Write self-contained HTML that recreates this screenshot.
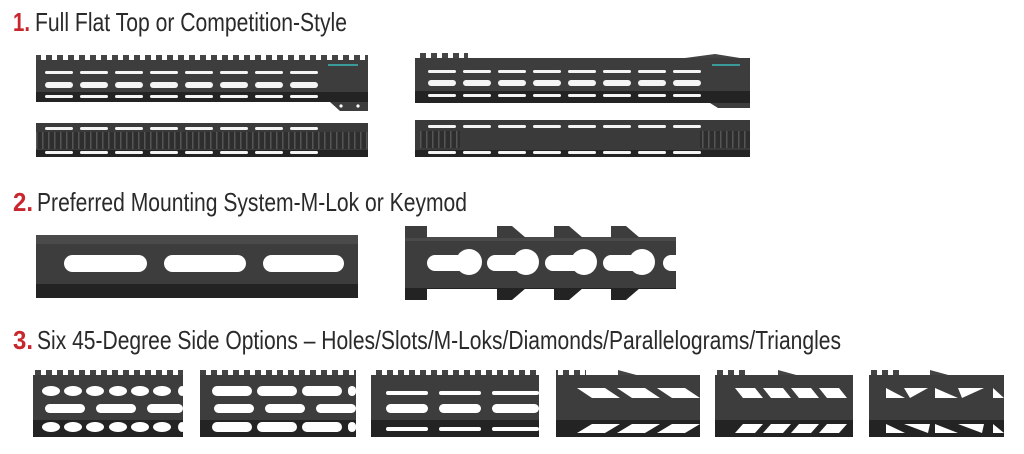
<!DOCTYPE html>
<html><head><meta charset="utf-8"><style>
html,body{margin:0;padding:0;background:#fff;width:1024px;height:454px;overflow:hidden}
svg{display:block}
.t{font-family:"Liberation Sans",sans-serif;font-size:26px;fill:#2a2a2a}
.n{font-family:"Liberation Sans",sans-serif;font-size:26px;font-weight:bold;fill:#c8262c}
</style></head><body>
<svg width="1024" height="454" viewBox="0 0 1024 454">
<defs>
<pattern id="teeth" width="11" height="6" patternUnits="userSpaceOnUse"><rect x="2" y="0" width="6" height="6" fill="#444"/></pattern>
<pattern id="rib" width="6" height="30" patternUnits="userSpaceOnUse"><rect width="6" height="30" fill="#2e2e2e"/><rect x="0" width="1.5" height="30" fill="#555"/></pattern>
</defs>
<text class="n" x="13" y="31" textLength="17" lengthAdjust="spacingAndGlyphs">1.</text><text class="t" x="35" y="31" textLength="312" lengthAdjust="spacingAndGlyphs">Full Flat Top or Competition-Style</text>
<text class="n" x="13" y="211" textLength="20" lengthAdjust="spacingAndGlyphs">2.</text><text class="t" x="37" y="211" textLength="430" lengthAdjust="spacingAndGlyphs">Preferred Mounting System-M-Lok or Keymod</text>
<text class="n" x="13" y="349" textLength="20" lengthAdjust="spacingAndGlyphs">3.</text><text class="t" x="37" y="349" textLength="804" lengthAdjust="spacingAndGlyphs">Six 45-Degree Side Options – Holes/Slots/M-Loks/Diamonds/Parallelograms/Triangles</text>

<g>
<rect x="36" y="55" width="332" height="6" fill="url(#teeth)"/>
<rect x="36" y="60" width="332" height="42" fill="#3d3d3d"/>
<rect x="36" y="92" width="332" height="10" fill="#232323"/>
<path d="M330 102 L368 102 L368 111 L340 111 Z" fill="#3d3d3d"/>
<circle cx="341" cy="106" r="1.6" fill="#fff"/><circle cx="358" cy="106" r="1.6" fill="#fff"/>
<g fill="#f4f4f4">
<rect x="45" y="71" width="28" height="3" rx="1.5"/><rect x="80" y="71" width="28" height="3" rx="1.5"/><rect x="115" y="71" width="28" height="3" rx="1.5"/><rect x="150" y="71" width="28" height="3" rx="1.5"/><rect x="185" y="71" width="28" height="3" rx="1.5"/><rect x="220" y="71" width="28" height="3" rx="1.5"/><rect x="255" y="71" width="28" height="3" rx="1.5"/><rect x="290" y="71" width="28" height="3" rx="1.5"/>
<rect x="45" y="82" width="28" height="6" rx="3"/><rect x="80" y="82" width="28" height="6" rx="3"/><rect x="115" y="82" width="28" height="6" rx="3"/><rect x="150" y="82" width="28" height="6" rx="3"/><rect x="185" y="82" width="28" height="6" rx="3"/><rect x="220" y="82" width="28" height="6" rx="3"/><rect x="255" y="82" width="28" height="6" rx="3"/><rect x="290" y="82" width="28" height="6" rx="3"/>
<rect x="45" y="95" width="28" height="3" rx="1.5"/><rect x="80" y="95" width="28" height="3" rx="1.5"/><rect x="115" y="95" width="28" height="3" rx="1.5"/><rect x="150" y="95" width="28" height="3" rx="1.5"/><rect x="185" y="95" width="28" height="3" rx="1.5"/><rect x="220" y="95" width="28" height="3" rx="1.5"/><rect x="255" y="95" width="28" height="3" rx="1.5"/><rect x="290" y="95" width="28" height="3" rx="1.5"/>
</g>
<rect x="328" y="64" width="30" height="2" fill="#3a9a9a"/>
</g>
<g>
<rect x="36" y="123" width="332" height="34" fill="#3a3a3a"/>
<rect x="36" y="132" width="332" height="17" fill="url(#rib)"/>
<rect x="36" y="150" width="332" height="7" fill="#232323"/>
<g fill="#f4f4f4">
<rect x="45" y="127" width="28" height="3" rx="1.5"/><rect x="80" y="127" width="28" height="3" rx="1.5"/><rect x="115" y="127" width="28" height="3" rx="1.5"/><rect x="150" y="127" width="28" height="3" rx="1.5"/><rect x="185" y="127" width="28" height="3" rx="1.5"/><rect x="220" y="127" width="28" height="3" rx="1.5"/><rect x="255" y="127" width="28" height="3" rx="1.5"/><rect x="290" y="127" width="28" height="3" rx="1.5"/>
<rect x="45" y="151" width="28" height="3" rx="1.5"/><rect x="80" y="151" width="28" height="3" rx="1.5"/><rect x="115" y="151" width="28" height="3" rx="1.5"/><rect x="150" y="151" width="28" height="3" rx="1.5"/><rect x="185" y="151" width="28" height="3" rx="1.5"/><rect x="220" y="151" width="28" height="3" rx="1.5"/><rect x="255" y="151" width="28" height="3" rx="1.5"/><rect x="290" y="151" width="28" height="3" rx="1.5"/>
</g>
</g>
<g>
<rect x="418" y="53" width="50" height="6" fill="url(#teeth)"/>
<path d="M685 58 L715 54 L740 58 Z" fill="#444"/>
<rect x="415" y="58" width="335" height="45" fill="#3d3d3d"/>
<rect x="415" y="91" width="335" height="12" fill="#232323"/>
<path d="M710 103 L750 103 L750 108 L718 108 Z" fill="#3d3d3d"/>
<g fill="#f4f4f4">
<rect x="428" y="70" width="28" height="3" rx="1.5"/><rect x="463" y="70" width="28" height="3" rx="1.5"/><rect x="498" y="70" width="28" height="3" rx="1.5"/><rect x="533" y="70" width="28" height="3" rx="1.5"/><rect x="568" y="70" width="28" height="3" rx="1.5"/><rect x="603" y="70" width="28" height="3" rx="1.5"/><rect x="638" y="70" width="28" height="3" rx="1.5"/><rect x="673" y="70" width="28" height="3" rx="1.5"/>
<rect x="428" y="80" width="28" height="6" rx="3"/><rect x="463" y="80" width="28" height="6" rx="3"/><rect x="498" y="80" width="28" height="6" rx="3"/><rect x="533" y="80" width="28" height="6" rx="3"/><rect x="568" y="80" width="28" height="6" rx="3"/><rect x="603" y="80" width="28" height="6" rx="3"/><rect x="638" y="80" width="28" height="6" rx="3"/><rect x="673" y="80" width="28" height="6" rx="3"/>
<rect x="428" y="94" width="28" height="3" rx="1.5"/><rect x="463" y="94" width="28" height="3" rx="1.5"/><rect x="498" y="94" width="28" height="3" rx="1.5"/><rect x="533" y="94" width="28" height="3" rx="1.5"/><rect x="568" y="94" width="28" height="3" rx="1.5"/><rect x="603" y="94" width="28" height="3" rx="1.5"/><rect x="638" y="94" width="28" height="3" rx="1.5"/><rect x="673" y="94" width="28" height="3" rx="1.5"/>
</g>
<rect x="712" y="64" width="28" height="2" fill="#3a9a9a"/>
</g>
<g>
<rect x="415" y="120" width="335" height="37" fill="#3a3a3a"/>
<rect x="420" y="131" width="40" height="17" fill="url(#rib)"/>
<rect x="700" y="131" width="50" height="17" fill="url(#rib)"/>
<rect x="415" y="150" width="335" height="7" fill="#232323"/>
<g fill="#f4f4f4">
<rect x="428" y="125" width="28" height="3" rx="1.5"/><rect x="463" y="125" width="28" height="3" rx="1.5"/><rect x="498" y="125" width="28" height="3" rx="1.5"/><rect x="533" y="125" width="28" height="3" rx="1.5"/><rect x="568" y="125" width="28" height="3" rx="1.5"/><rect x="603" y="125" width="28" height="3" rx="1.5"/><rect x="638" y="125" width="28" height="3" rx="1.5"/><rect x="673" y="125" width="28" height="3" rx="1.5"/>
<rect x="428" y="151" width="28" height="3" rx="1.5"/><rect x="463" y="151" width="28" height="3" rx="1.5"/><rect x="498" y="151" width="28" height="3" rx="1.5"/><rect x="533" y="151" width="28" height="3" rx="1.5"/><rect x="568" y="151" width="28" height="3" rx="1.5"/><rect x="603" y="151" width="28" height="3" rx="1.5"/><rect x="638" y="151" width="28" height="3" rx="1.5"/><rect x="673" y="151" width="28" height="3" rx="1.5"/>
</g>
</g>

<g>
<rect x="36" y="235" width="322" height="63" fill="#3d3d3d"/>
<rect x="36" y="235" width="322" height="9" fill="#4a4a4a"/>
<rect x="36" y="284" width="322" height="14" fill="#232323"/>
<g fill="#fff">
<rect x="64" y="255" width="83" height="17" rx="8.5"/><rect x="164" y="255" width="82" height="17" rx="8.5"/><rect x="263" y="255" width="81" height="17" rx="8.5"/>
</g>
</g>
<!-- Keymod -->
<g>
<rect x="405" y="237" width="271" height="52" fill="#3d3d3d"/>
<rect x="405" y="237" width="271" height="4" fill="#4a4a4a"/>
<rect x="405" y="226" width="22" height="12" fill="#3d3d3d"/>
<g fill="#3d3d3d">
<path d="M497 226 L512 226 L526 238 L497 238Z"/>
<path d="M554 226 L569 226 L583 238 L554 238Z"/>
<path d="M611 226 L626 226 L640 238 L611 238Z"/>
</g>
<rect x="405" y="288" width="22" height="12" fill="#232323"/>
<g fill="#232323">
<path d="M497 288 L526 288 L512 300 L497 300Z"/>
<path d="M554 288 L583 288 L569 300 L554 300Z"/>
<path d="M611 288 L640 288 L626 300 L611 300Z"/>
</g>
<rect x="427" y="288" width="249" height="1" fill="#232323"/>
<g fill="#fff">
<rect x="427" y="255" width="40" height="16" rx="8"/><circle cx="469" cy="262" r="13"/>
<rect x="487" y="255" width="40" height="16" rx="8"/><circle cx="526" cy="262" r="13"/>
<rect x="545" y="255" width="40" height="16" rx="8"/><circle cx="584" cy="262" r="13"/>
<rect x="603" y="255" width="40" height="16" rx="8"/><circle cx="642" cy="262" r="13"/>
<rect x="663" y="255" width="20" height="16" rx="8"/>
</g>
<rect x="676" y="220" width="10" height="85" fill="#fff"/>
</g>

<g>
<rect x="33" y="370" width="150" height="6" fill="url(#teeth)"/>
<rect x="33" y="375" width="150" height="62" fill="#3d3d3d"/>
<rect x="33" y="420" width="150" height="17" fill="#232323"/>
<g fill="#fff">
<ellipse cx="51" cy="391" rx="9" ry="5"/><ellipse cx="73" cy="391" rx="9" ry="5"/><ellipse cx="95" cy="391" rx="9" ry="5"/><ellipse cx="118" cy="391" rx="9" ry="5"/><ellipse cx="140" cy="391" rx="9" ry="5"/><ellipse cx="162" cy="391" rx="9" ry="5"/><ellipse cx="182" cy="391" rx="4" ry="5"/>
<rect x="45" y="404" width="40" height="9" rx="4.5"/><rect x="96" y="404" width="40" height="9" rx="4.5"/><rect x="147" y="404" width="36" height="9" rx="4.5"/>
<ellipse cx="51" cy="427" rx="9" ry="5"/><ellipse cx="73" cy="427" rx="9" ry="5"/><ellipse cx="95" cy="427" rx="9" ry="5"/><ellipse cx="118" cy="427" rx="9" ry="5"/><ellipse cx="140" cy="427" rx="9" ry="5"/><ellipse cx="162" cy="427" rx="9" ry="5"/><ellipse cx="182" cy="427" rx="4" ry="5"/>
</g>
<rect x="200" y="370" width="156" height="6" fill="url(#teeth)"/>
<rect x="200" y="375" width="156" height="62" fill="#3d3d3d"/>
<rect x="200" y="420" width="156" height="17" fill="#232323"/>
<g fill="#fff">
<rect x="212" y="386" width="40" height="10" rx="5"/><rect x="257" y="386" width="40" height="10" rx="5"/><rect x="302" y="386" width="40" height="10" rx="5"/><rect x="348" y="386" width="8" height="10" rx="4"/>
<rect x="214" y="404" width="40" height="9" rx="4.5"/><rect x="265" y="404" width="40" height="9" rx="4.5"/><rect x="316" y="404" width="40" height="9" rx="4.5"/>
<rect x="212" y="422" width="40" height="10" rx="5"/><rect x="257" y="422" width="40" height="10" rx="5"/><rect x="302" y="422" width="40" height="10" rx="5"/><rect x="348" y="422" width="8" height="10" rx="4"/>
</g>
<rect x="371" y="370" width="168" height="6" fill="url(#teeth)"/>
<rect x="371" y="375" width="168" height="62" fill="#3d3d3d"/>
<rect x="371" y="420" width="168" height="17" fill="#232323"/>
<g fill="#fff">
<rect x="386" y="391" width="42" height="4" rx="2"/><rect x="439" y="391" width="42" height="4" rx="2"/><rect x="492" y="391" width="47" height="4" rx="2"/>
<rect x="386" y="404" width="42" height="9" rx="4.5"/><rect x="439" y="404" width="42" height="9" rx="4.5"/><rect x="492" y="404" width="47" height="9" rx="4.5"/>
<rect x="386" y="427" width="42" height="4" rx="2"/><rect x="439" y="427" width="42" height="4" rx="2"/><rect x="492" y="427" width="47" height="4" rx="2"/>
</g>
<rect x="556" y="370" width="30" height="6" fill="url(#teeth)"/>
<path d="M618 370 L640 376 L618 376Z" fill="#444"/>
<rect x="556" y="375" width="144" height="62" fill="#3d3d3d"/>
<rect x="556" y="420" width="144" height="17" fill="#232323"/>
<g fill="#fff">
<path d="M577 388 L605 388 L620 398 L592 398Z"/><path d="M617 388 L645 388 L660 398 L632 398Z"/><path d="M657 388 L685 388 L700 398 L672 398Z"/>
<path d="M577 433 L605 433 L620 424 L592 424Z"/><path d="M617 433 L645 433 L660 424 L632 424Z"/><path d="M657 433 L685 433 L700 424 L672 424Z"/>
</g>
<rect x="715" y="370" width="30" height="6" fill="url(#teeth)"/>
<path d="M778 370 L800 376 L778 376Z" fill="#444"/>
<rect x="715" y="375" width="138" height="62" fill="#3d3d3d"/>
<rect x="715" y="420" width="138" height="17" fill="#232323"/>
<g fill="#fff">
<path d="M735 388 L755 388 L763 398 L743 398Z"/><path d="M763 388 L783 388 L791 398 L771 398Z"/><path d="M791 388 L811 388 L819 398 L799 398Z"/><path d="M819 388 L839 388 L847 398 L827 398Z"/>
<path d="M735 433 L755 433 L763 424 L743 424Z"/><path d="M763 433 L783 433 L791 424 L771 424Z"/><path d="M791 433 L811 433 L819 424 L799 424Z"/><path d="M819 433 L839 433 L847 424 L827 424Z"/>
</g>
<rect x="869" y="370" width="30" height="6" fill="url(#teeth)"/>
<path d="M930 370 L952 376 L930 376Z" fill="#444"/>
<rect x="869" y="375" width="135" height="62" fill="#3d3d3d"/>
<rect x="869" y="420" width="135" height="17" fill="#232323"/>
<g fill="#fff">
<path d="M886 388 L886 398 L905 398Z"/><path d="M904 388 L928 388 L910 398Z"/><path d="M935 388 L935 398 L958 398Z"/><path d="M958 388 L984 388 L962 398Z"/><path d="M993 388 L993 398 L1004 398Z"/>
<path d="M886 433 L886 424 L905 433Z"/><path d="M904 424 L930 424 L928 433Z"/><path d="M935 433 L935 424 L958 433Z"/><path d="M958 424 L984 424 L982 433Z"/><path d="M993 433 L993 424 L1004 433Z"/>
</g>
</g>
</svg>
</body></html>
